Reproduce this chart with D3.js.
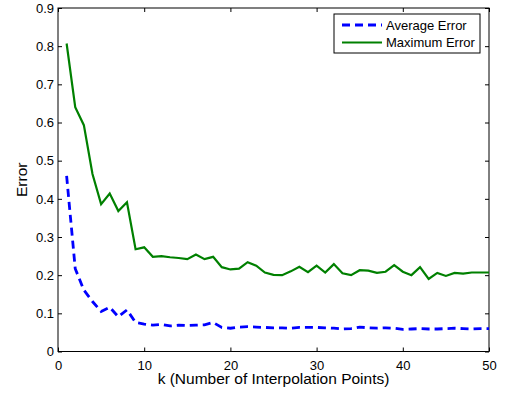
<!DOCTYPE html>
<meta charset="utf-8">
<body style="margin:0;background:#fff">
<script src="https://d3js.org/d3.v7.min.js"></script>
<div id="my_dataviz"></div>
<script>
// data
var kValues = d3.range(1, 51);
var avgError = [0.460, 0.217, 0.161, 0.131, 0.105, 0.116, 0.091, 0.109, 0.076, 0.072,
                0.069, 0.071, 0.067, 0.069, 0.068, 0.069, 0.070, 0.076, 0.063, 0.061,
                0.064, 0.065, 0.064, 0.063, 0.062, 0.062, 0.061, 0.063, 0.063, 0.063,
                0.062, 0.061, 0.059, 0.060, 0.064, 0.062, 0.061, 0.062, 0.061, 0.058,
                0.059, 0.060, 0.059, 0.059, 0.060, 0.061, 0.060, 0.059, 0.060, 0.060];
var maxError = [0.807, 0.640, 0.593, 0.465, 0.386, 0.414, 0.368, 0.391, 0.268, 0.273,
                0.248, 0.250, 0.247, 0.245, 0.242, 0.254, 0.242, 0.248, 0.221, 0.215,
                0.217, 0.234, 0.225, 0.207, 0.201, 0.200, 0.210, 0.222, 0.208, 0.225,
                0.207, 0.229, 0.205, 0.200, 0.213, 0.212, 0.206, 0.209, 0.226, 0.209,
                0.200, 0.221, 0.190, 0.206, 0.198, 0.206, 0.204, 0.207, 0.207, 0.207];
var xTicks = [0, 10, 20, 30, 40, 50];
var yTicks = [0, 0.1, 0.2, 0.3, 0.4, 0.5, 0.6, 0.7, 0.8, 0.9];
var seriesNames = ["Average Error", "Maximum Error"];

var margin = {top: 8, right: 16, bottom: 44.5, left: 58},
    width = 505 - margin.left - margin.right,
    height = 396 - margin.top - margin.bottom;

var svg = d3.select("#my_dataviz")
  .append("svg")
    .attr("width", 505)
    .attr("height", 396)
    .style("font-family", "'Liberation Sans', Arial, Helvetica, sans-serif")
  .append("g")
    .attr("transform", "translate(" + margin.left + "," + margin.top + ")");

var x = d3.scaleLinear().domain([0, 50]).range([0, width]);
var y = d3.scaleLinear().domain([0, 0.9]).range([height, 0]);

// axes, ticks pointing inward on all four sides
function styleAxis(g) {
  g.select(".domain").remove();
  g.selectAll("line").attr("stroke", "#000");
  g.selectAll("text").attr("fill", "#000").style("font-size", "13px");
}
svg.append("g")
  .attr("transform", "translate(0," + height + ")")
  .call(d3.axisBottom(x).tickValues(xTicks).tickSizeInner(-4).tickPadding(9).tickFormat(d3.format("d")))
  .call(styleAxis);
svg.append("g")
  .call(d3.axisTop(x).tickValues(xTicks).tickSizeInner(-4).tickFormat(""))
  .call(styleAxis);
svg.append("g")
  .call(d3.axisLeft(y).tickValues(yTicks).tickSizeInner(-4).tickPadding(4).tickFormat(function(d) { return d === 0 ? "0" : d3.format(".1f")(d); }))
  .call(styleAxis);
svg.append("g")
  .attr("transform", "translate(" + width + ",0)")
  .call(d3.axisRight(y).tickValues(yTicks).tickSizeInner(-4).tickFormat(""))
  .call(styleAxis);

svg.append("rect")
  .attr("width", width)
  .attr("height", height)
  .attr("fill", "none")
  .attr("stroke", "#000")
  .attr("stroke-width", 1);

// lines
var line = function(vals) {
  return d3.line()
    .x(function(d, i) { return x(kValues[i]); })
    .y(function(d) { return y(d); })(vals);
};
svg.append("path")
  .attr("d", line(maxError))
  .attr("fill", "none")
  .attr("stroke", "#008000")
  .attr("stroke-width", 2.2);
svg.append("path")
  .attr("d", line(avgError))
  .attr("fill", "none")
  .attr("stroke", "#0000ff")
  .attr("stroke-width", 2.8)
  .attr("stroke-dasharray", "8,5");

// axis labels
svg.append("text")
  .attr("x", width / 2)
  .attr("y", height + 32)
  .attr("text-anchor", "middle")
  .style("font-size", "15.5px")
  .text("k (Number of Interpolation Points)");
svg.append("text")
  .attr("transform", "rotate(-90)")
  .attr("x", -(height / 2))
  .attr("y", -31)
  .attr("text-anchor", "middle")
  .style("font-size", "15.5px")
  .text("Error");

// legend
var legend = svg.append("g").attr("transform", "translate(" + (334 - margin.left) + "," + (14 - margin.top) + ")");
legend.append("rect")
  .attr("width", 146)
  .attr("height", 39)
  .attr("fill", "#fff")
  .attr("stroke", "#000");
var legendStyles = [{c: "#0000ff", w: 2.8, dash: "8,5"}, {c: "#008000", w: 2.2, dash: null}];
seriesNames.forEach(function(name, i) {
  var ly = 11 + i * 17.5;
  legend.append("line")
    .attr("x1", 8).attr("x2", 48)
    .attr("y1", ly).attr("y2", ly)
    .attr("stroke", legendStyles[i].c)
    .attr("stroke-width", legendStyles[i].w)
    .attr("stroke-dasharray", legendStyles[i].dash);
  legend.append("text")
    .attr("x", 52)
    .attr("y", ly + 4.5)
    .style("font-size", "13px")
    .text(name);
});
</script>
</body>
